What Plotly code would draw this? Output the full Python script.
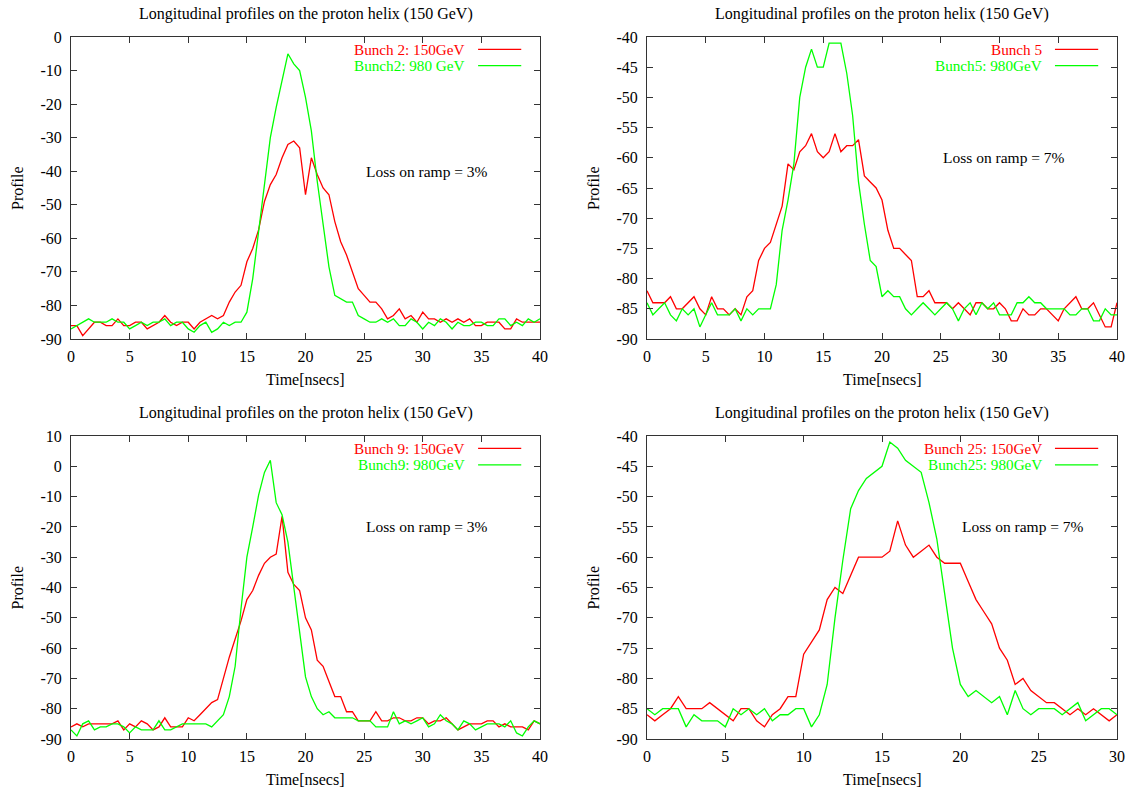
import plotly.graph_objects as go

# ---------------- data ----------------
t40 = [i * 0.5 for i in range(81)]
t30 = [i * 0.5 for i in range(61)]

b2_150 = [-86, -86, -89, -87, -85, -85, -86, -86, -84, -86, -86, -85, -85, -87, -86, -85, -83, -85, -86, -85,
          -85, -87, -85, -84, -83, -84, -83, -79, -76, -74, -67, -63, -57.5, -49, -44, -41, -36, -32, -31, -33,
          -47, -36, -41, -45, -47, -55, -61, -65, -70, -75, -77, -79, -79, -81, -84, -83, -81, -84, -83, -85,
          -82, -84, -84, -85, -84, -85, -84, -85, -84, -86, -86, -85, -85, -85, -87, -87, -84, -85, -85, -85, -85]
b2_980 = [-87, -86, -85, -84, -85, -85, -85, -84, -85, -85, -87, -86, -85, -86, -85, -85, -84, -86, -85, -85,
          -87, -88, -86, -85, -88, -87, -85, -86, -85, -85, -82, -72, -58.5, -44.5, -30, -21, -12.5, -5, -8, -10,
          -18, -28, -43, -56.5, -68.5, -77, -78, -79, -79, -83, -84, -85, -85, -84, -85, -84, -86, -86, -84, -85,
          -87, -85, -86, -84, -85, -87, -85, -86, -86, -85, -85, -86, -86, -84, -84, -86, -85, -86, -84, -85, -84]

b5_150 = [-82, -84, -84, -84, -83, -85, -85, -84, -83, -85, -86, -83, -85, -85, -86, -85, -86, -83, -82, -77,
          -75, -74, -71, -68, -61, -62, -59, -58, -56, -59, -60, -59, -56, -59, -58, -58, -57, -63, -64, -65,
          -67, -72, -75, -75, -76, -77, -83, -83, -82, -84, -84, -84, -85, -84, -85, -86, -84, -84, -85, -85,
          -84, -85, -87, -87, -85, -86, -86, -85, -85, -86, -87, -85, -84, -83, -85, -85, -84, -86, -88, -88, -84]
b5_980 = [-84, -86, -85, -84, -86, -87, -85, -86, -85, -88, -86, -84, -86, -86, -86, -85, -87, -85, -86, -85,
          -85, -85, -81, -72, -67, -61, -50, -45, -42, -45, -45, -41, -41, -41, -46, -53, -64, -71, -77, -78,
          -83, -82, -83, -83, -85, -86, -85, -84, -85, -86, -85, -84, -85, -87, -85, -84, -86, -84, -85, -84,
          -86, -86, -86, -84, -84, -83, -84, -84, -85, -85, -85, -85, -86, -86, -85, -85, -87, -87, -85, -86, -86]

b9_150 = [-86, -85, -86, -85, -85, -85, -85, -85, -84, -87, -85, -86, -84, -85, -87, -86, -83, -86, -86, -86,
          -83, -84, -82, -80, -78, -77, -70, -63, -57, -51, -44, -41, -36, -32, -30, -29, -16.5, -35, -39, -41,
          -50, -54, -64, -66, -71, -76, -76, -81, -81, -84, -84, -84, -81, -84, -84, -83, -83, -84, -84, -83,
          -83, -85, -84, -84, -83, -85, -87, -86, -85, -85, -85, -84, -84, -86, -85, -86, -86, -86, -87, -84, -85]
b9_980 = [-87, -89, -85, -84, -87, -86, -86, -85, -85, -86, -88, -86, -87, -87, -87, -84, -87, -87, -86, -85,
          -85, -85, -85, -85, -86, -84, -82, -76, -66, -47, -30, -20, -9.5, -2, 2, -12, -16, -25, -40, -55,
          -69.5, -76, -80, -82, -81, -83, -83, -83, -83, -84, -84, -84, -86, -86, -86, -81, -85, -84, -85, -84,
          -83, -86, -85, -82, -84, -85, -87, -84, -85, -87, -86, -85, -85, -85, -86, -84, -88, -89, -86, -84, -85]

b25_150 = [-86, -87, -86, -85, -83, -85, -85, -85, -84, -85, -86, -87, -85, -85, -87, -88, -86, -85, -83, -83,
           -76, -74, -72, -67, -65, -66, -63, -60, -60, -60, -60, -59, -54, -58, -60, -59, -58, -60, -61, -61,
           -61, -64, -67, -69, -71, -75, -77, -81, -80, -82, -83, -84, -84, -85, -86, -85, -86, -85, -86, -87, -86]
b25_980 = [-85, -86, -85, -85, -85, -88, -86, -87, -87, -87, -88, -85, -86, -85, -86, -85, -87, -86, -86, -85,
           -85, -88, -86, -81, -70, -60.5, -52, -49, -47, -46, -45, -41, -42, -44, -45, -46, -51, -57, -66, -75,
           -81, -83, -82, -83, -84, -83, -86, -82, -85, -86, -85, -85, -85, -86, -85, -84, -87, -86, -85, -85, -86]

panels = [
    dict(t=t40, red=b2_150, green=b2_980, red_name="Bunch 2: 150GeV", green_name="Bunch2: 980 GeV",
         xr=[0, 40], xt=list(range(0, 41, 5)), yr=[-90, 0], yt=list(range(-90, 1, 10)),
         loss="Loss on ramp = 3%", lx=25, ly=-40),
    dict(t=t40, red=b5_150, green=b5_980, red_name="Bunch 5", green_name="Bunch5: 980GeV",
         xr=[0, 40], xt=list(range(0, 41, 5)), yr=[-90, -40], yt=list(range(-90, -39, 5)),
         loss="Loss on ramp = 7%", lx=25, ly=-60),
    dict(t=t40, red=b9_150, green=b9_980, red_name="Bunch 9: 150GeV", green_name="Bunch9: 980GeV",
         xr=[0, 40], xt=list(range(0, 41, 5)), yr=[-90, 10], yt=list(range(-90, 11, 10)),
         loss="Loss on ramp = 3%", lx=25, ly=-20),
    dict(t=t30, red=b25_150, green=b25_980, red_name="Bunch 25: 150GeV", green_name="Bunch25: 980GeV",
         xr=[0, 30], xt=list(range(0, 31, 5)), yr=[-90, -40], yt=list(range(-90, -39, 5)),
         loss="Loss on ramp = 7%", lx=20, ly=-55),
]
title_text = "Longitudinal profiles on the proton helix (150 GeV)"
xlabel = "Time[nsecs]"
ylabel = "Profile"

# ---------------- layout ----------------
W, H = 1136, 791
xdoms = [[71 / W, 540 / W], [647 / W, 1117 / W]]
ydoms = [[(H - 339) / H, (H - 37) / H], [(H - 739) / H, (H - 436) / H]]
RED = "#ff0000"
GREEN = "#00ff00"
FONT = "Liberation Serif"

fig = go.Figure()
annotations = []
shapes = []
layout = {}

for i, p in enumerate(panels):
    row, col = i // 2, i % 2
    n = i + 1
    xa = "x" if n == 1 else f"x{n}"
    ya = "y" if n == 1 else f"y{n}"
    fig.add_trace(go.Scatter(x=p["t"], y=p["red"], mode="lines", line=dict(color=RED, width=1.3),
                             name=p["red_name"], xaxis=xa, yaxis=ya, showlegend=False))
    fig.add_trace(go.Scatter(x=p["t"], y=p["green"], mode="lines", line=dict(color=GREEN, width=1.3),
                             name=p["green_name"], xaxis=xa, yaxis=ya, showlegend=False))
    axcommon = dict(showgrid=False, zeroline=False, showline=True, linecolor="#333333", linewidth=1,
                    mirror="allticks", ticks="inside", ticklen=6, tickcolor="#333333", tickwidth=1,
                    automargin=False,
                    tickfont=dict(family=FONT, size=16, color="black"))
    layout["xaxis" if n == 1 else f"xaxis{n}"] = dict(
        axcommon, domain=xdoms[col], range=p["xr"], tickmode="array", tickvals=p["xt"],
        ticktext=[str(v) for v in p["xt"]], anchor=ya, ticklabelstandoff=3)
    layout["yaxis" if n == 1 else f"yaxis{n}"] = dict(
        axcommon, domain=ydoms[row], range=p["yr"], tickmode="array", tickvals=p["yt"],
        ticktext=[str(v) for v in p["yt"]], anchor=xa, ticklabelstandoff=5)

    xd = f"{xa} domain"
    yd = f"{ya} domain"
    # panel title
    annotations.append(dict(text=title_text, xref=xd, yref=yd, x=0.5, y=1.0, yshift=23,
                            showarrow=False, xanchor="center", yanchor="middle",
                            font=dict(family=FONT, size=16, color="black")))
    # x axis label
    annotations.append(dict(text=xlabel, xref=xd, yref=yd, x=0.5, y=0.0, yshift=-40,
                            showarrow=False, xanchor="center", yanchor="middle",
                            font=dict(family=FONT, size=16, color="black")))
    # y axis label
    annotations.append(dict(text=ylabel, xref=xd, yref=yd, x=0.0, y=0.5, xshift=-54,
                            showarrow=False, xanchor="center", yanchor="middle", textangle=-90,
                            font=dict(family=FONT, size=16, color="black")))
    # loss annotation (data coordinates)
    annotations.append(dict(text=p["loss"], xref=xa, yref=ya, x=p["lx"], y=p["ly"],
                            showarrow=False, xanchor="left", yanchor="middle",
                            font=dict(family=FONT, size=15.5, color="black")))
    # key (legend) entries
    for k, (name, colr, yy) in enumerate([(p["red_name"], RED, 0.959), (p["green_name"], GREEN, 0.905)]):
        annotations.append(dict(text=name, xref=xd, yref=yd, x=0.845, y=yy,
                                showarrow=False, xanchor="right", yanchor="middle",
                                font=dict(family=FONT, size=15.2, color=colr)))
        shapes.append(dict(type="line", xref=xd, yref=yd, x0=0.868, x1=0.96, y0=yy, y1=yy,
                           line=dict(color=colr, width=1.3)))

fig.update_layout(
    template="none",
    width=W, height=H,
    margin=dict(l=0, r=0, t=0, b=0),
    paper_bgcolor="white", plot_bgcolor="white",
    showlegend=False,
    annotations=annotations, shapes=shapes,
    font=dict(family=FONT, size=16, color="black"),
    **layout,
)

# remove the default 8px page margin so the figure fills the window exactly
fig.write_html("out.html", config={"displayModeBar": False},
               post_script="document.body.style.margin='0';document.body.style.overflow='hidden';")
